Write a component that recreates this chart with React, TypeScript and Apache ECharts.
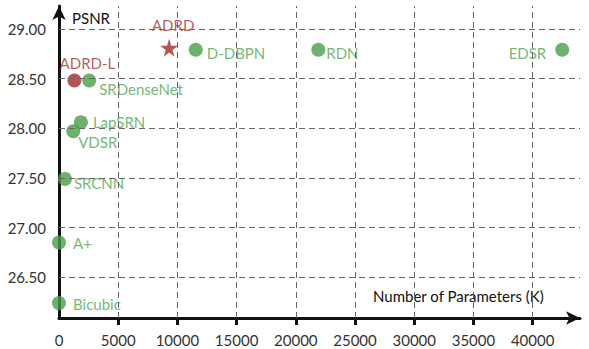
import React, { useEffect, useRef } from "react";
import * as echarts from "echarts";

const modelNames = ["Bicubic", "A+", "SRCNN", "VDSR", "LapSRN", "SRDenseNet", "D-DBPN", "RDN", "EDSR"];
const modelParams = [0, 0, 500, 1200, 1850, 2550, 11550, 21900, 42500];
const modelPsnr = [26.24, 26.85, 27.49, 27.97, 28.06, 28.48, 28.79, 28.79, 28.79];

const oursNames = ["ADRD-L", "ADRD"];
const oursParams = [1300, 9300];
const oursPsnr = [28.48, 28.81];

const xTicks = [0, 5000, 10000, 15000, 20000, 25000, 30000, 35000, 40000];
const yTicks = [26.5, 27.0, 27.5, 28.0, 28.5, 29.0];

const GREEN = "#4a9e4a";
const GREEN_TEXT = "#4fa54f";
const RED = "#a32a2a";
const RED_TEXT = "#a83030";
const FONT = "Lato, 'Open Sans', sans-serif";

const labelStyle: Record<string, any> = {
  Bicubic: { position: "right", distance: 7, offset: [0, 1] },
  "A+": { position: "right", distance: 7, offset: [0, 1] },
  SRCNN: { position: "right", distance: 2, offset: [0, 4] },
  VDSR: { position: "right", distance: 0, offset: [-2, 11] },
  LapSRN: { position: "right", distance: 5, offset: [0, 0] },
  SRDenseNet: { position: "right", distance: 3, offset: [0, 8] },
  "D-DBPN": { position: "right", distance: 4, offset: [0, 3] },
  RDN: { position: "right", distance: 1, offset: [0, 3] },
  EDSR: { position: "left", distance: 9, offset: [0, 3] },
  "ADRD-L": { position: "top", distance: 3, offset: [13, 0] },
  ADRD: { position: "top", distance: 6, offset: [4, 0] },
};

const STAR = "path://M50,0 L61,35 L98,35 L68,57 L79,91 L50,70 L21,91 L32,57 L2,35 L39,35 Z";

export default function App() {
  const ref = useRef<HTMLDivElement>(null);
  useEffect(() => {
    if (!ref.current) return;
    const chart = echarts.init(ref.current, undefined, { renderer: "svg" });
    const mkLabel = (name: string, color: string) => ({
      show: true,
      formatter: name,
      color,
      fontSize: 15,
      fontFamily: FONT,
      ...labelStyle[name],
    });
    const gridLines = [
      ...yTicks.map((v) => ({ yAxis: v })),
      ...xTicks.filter((v) => v > 0).map((v) => ({ xAxis: v })),
    ];
    chart.setOption({
      animation: false,
      backgroundColor: "#ffffff",
      grid: { left: 59, right: 9, top: 6, bottom: 31 },
      xAxis: {
        type: "value",
        min: 0,
        max: 44000,
        interval: 5000,
        splitLine: { show: false },
        axisLine: {
          show: true,
          lineStyle: { color: "#111", width: 3 },
          symbol: ["none", "arrow"],
          symbolSize: [10, 14],
        },
        axisTick: {
          show: true,
          length: 7,
          inside: false,
          lineStyle: { color: "#111", width: 3 },
          customValues: xTicks.filter((v) => v > 0),
        },
        axisLabel: {
          color: "#333",
          fontSize: 15,
          fontFamily: FONT,
          margin: 14,
          customValues: xTicks,
          formatter: (v: number) => String(v),
        },
      },
      yAxis: {
        type: "value",
        min: 26.09,
        max: 29.23,
        splitLine: { show: false },
        axisLine: {
          show: true,
          onZero: false,
          lineStyle: { color: "#111", width: 3 },
          symbol: ["none", "arrow"],
          symbolSize: [10, 14],
        },
        axisTick: { show: false },
        axisLabel: {
          color: "#333",
          fontSize: 15,
          fontFamily: FONT,
          margin: 13,
          customValues: yTicks,
          formatter: (v: number) => Number(v).toFixed(2),
        },
      },
      graphic: [
        {
          type: "text",
          left: 72,
          top: 10,
          style: { text: "PSNR", fill: "#111", fontSize: 15, fontFamily: FONT },
        },
        {
          type: "text",
          left: 373,
          top: 288,
          style: { text: "Number of Parameters (K)", fill: "#111", fontSize: 15, fontFamily: FONT },
        },
      ],
      series: [
        {
          type: "scatter",
          silent: true,
          data: [],
          markLine: {
            silent: true,
            symbol: ["none", "none"],
            label: { show: false },
            lineStyle: { color: "#666", type: [6, 4], width: 1 },
            data: gridLines,
          },
        },
        {
          type: "scatter",
          symbol: "circle",
          symbolSize: 14,
          itemStyle: { color: GREEN },
          data: modelNames.map((n, i) => ({
            value: [modelParams[i], modelPsnr[i]],
            label: mkLabel(n, GREEN_TEXT),
          })),
        },
        {
          type: "scatter",
          itemStyle: { color: RED },
          data: oursNames.map((n, i) => ({
            value: [oursParams[i], oursPsnr[i]],
            symbol: n === "ADRD" ? STAR : "circle",
            symbolSize: n === "ADRD" ? 18 : 14,
            label: mkLabel(n, RED_TEXT),
          })),
        },
      ],
    });
    return () => chart.dispose();
  }, []);
  return (
    <div
      ref={ref}
      style={{ position: "fixed", left: 0, top: 0, width: 589, height: 349, background: "#fff" }}
    />
  );
}
